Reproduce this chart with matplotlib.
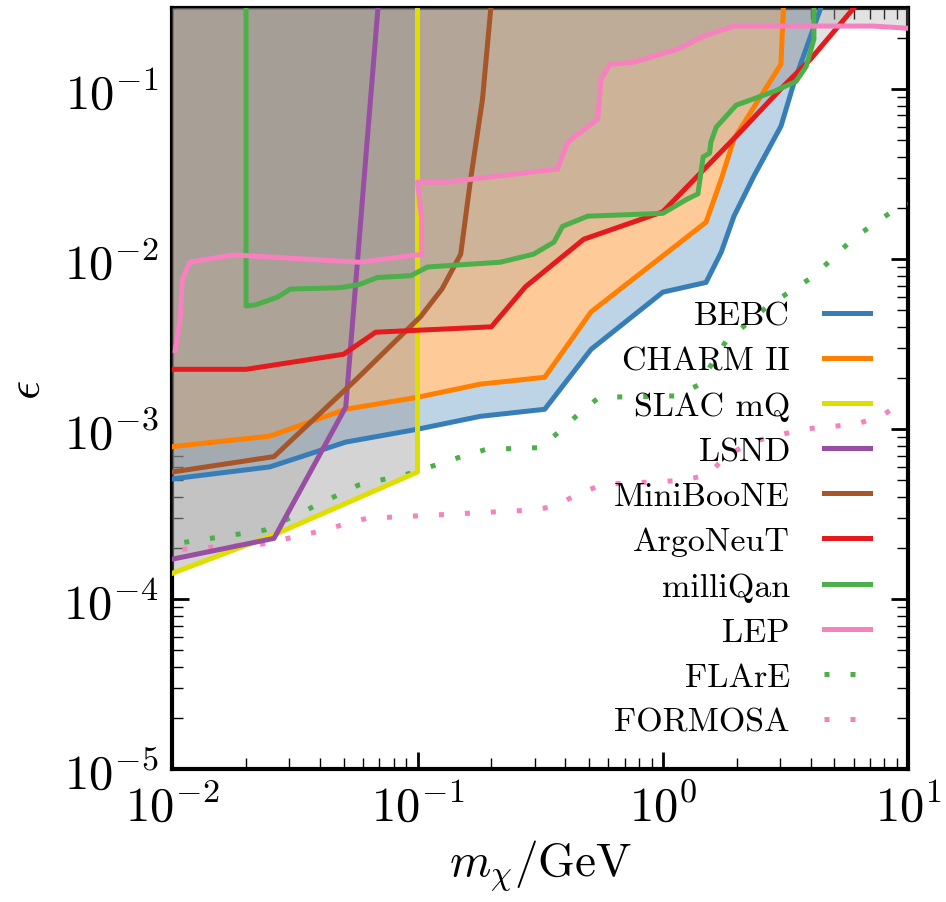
import matplotlib
matplotlib.use('Agg')
import matplotlib.pyplot as plt

plt.rcParams['font.family'] = 'serif'
plt.rcParams['font.serif'] = ['cmr10', 'DejaVu Serif']
plt.rcParams['mathtext.fontset'] = 'cm'
plt.rcParams['axes.formatter.use_mathtext'] = True

# exclusion limits, (m_chi / GeV, epsilon)
bebc_m = [0.01, 0.025, 0.051, 0.1, 0.18, 0.33, 0.51, 1.0, 1.5, 1.73, 1.95, 2.35, 3.03, 3.43, 4.4]
bebc_e = [5.1e-4, 6.0e-4, 8.4e-4, 1.0e-3, 1.19e-3, 1.31e-3, 2.95e-3, 6.4e-3, 7.3e-3, 0.011, 0.0179, 0.0308, 0.0605, 0.11, 0.3]

charm_m = [0.01, 0.025, 0.051, 0.1, 0.18, 0.33, 0.51, 1.5, 1.73, 1.95, 3.03, 3.1]
charm_e = [7.9e-4, 9.1e-4, 1.31e-3, 1.54e-3, 1.84e-3, 2.02e-3, 4.9e-3, 0.0165, 0.0295, 0.051, 0.14, 0.3]

slac_m = [0.01, 0.027, 0.1, 0.1]
slac_e = [1.42e-4, 2.45e-4, 5.6e-4, 0.3]

lsnd_m = [0.01, 0.026, 0.051, 0.0625, 0.069]
lsnd_e = [1.72e-4, 2.28e-4, 1.35e-3, 0.052, 0.3]

mb_m = [0.01, 0.026, 0.056, 0.103, 0.126, 0.15, 0.164, 0.184, 0.199]
mb_e = [5.6e-4, 6.9e-4, 1.95e-3, 4.6e-3, 6.7e-3, 0.0107, 0.0284, 0.087, 0.3]

argo_m = [0.01, 0.02, 0.05, 0.0675, 0.2, 0.276, 0.476, 1.0, 2.02, 3.1, 4.0, 6.0]
argo_e = [2.25e-3, 2.25e-3, 2.76e-3, 3.72e-3, 4.0e-3, 6.9e-3, 0.0131, 0.019, 0.054, 0.104, 0.15, 0.3]

mq_m = [0.02, 0.02, 0.022, 0.0268, 0.0303, 0.0485, 0.058, 0.0686, 0.094, 0.11, 0.218, 0.297,
        0.36, 0.39, 0.494, 1.0, 1.26, 1.39, 1.46, 1.55, 1.57, 1.65, 1.99, 2.84, 3.49, 3.84, 4.13, 4.13]
mq_e = [0.3, 5.3e-3, 5.4e-3, 5.97e-3, 6.67e-3, 6.8e-3, 7.1e-3, 7.8e-3, 8.0e-3, 9.0e-3, 9.6e-3, 0.0107,
        0.0126, 0.0156, 0.0179, 0.0186, 0.0226, 0.0242, 0.040, 0.042, 0.0488, 0.0597, 0.0805, 0.097,
        0.111, 0.136, 0.197, 0.3]

lep_m = [0.0103, 0.0108, 0.011, 0.0118, 0.0177, 0.058, 0.1, 0.104, 0.104, 0.1, 0.132, 0.372, 0.41,
         0.543, 0.56, 0.61, 0.76, 1.15, 1.47, 1.95, 7.2, 10.0]
lep_e = [2.9e-3, 4.6e-3, 7.6e-3, 9.6e-3, 0.0106, 9.6e-3, 0.0106, 0.0106, 0.0172, 0.0284, 0.0284,
         0.0339, 0.0488, 0.0667, 0.115, 0.14, 0.144, 0.172, 0.205, 0.235, 0.235, 0.228]

flare_m = [0.0112, 0.0238, 0.0373, 0.0574, 0.0935, 0.151, 0.19, 0.32, 0.454, 0.55, 1.13, 1.4,
           1.81, 2.68, 4.1, 6.0, 9.1, 10.0]
flare_e = [2.16e-4, 2.55e-4, 3.48e-4, 4.69e-4, 5.5e-4, 6.9e-4, 7.6e-4, 7.8e-4, 1.23e-3, 1.54e-3,
           1.57e-3, 1.82e-3, 3.3e-3, 5.3e-3, 7.9e-3, 0.0133, 0.0202, 0.021]

formosa_m = [0.011, 0.0233, 0.0384, 0.062, 0.103, 0.284, 0.36, 0.45, 0.57, 1.21, 1.53, 1.8, 2.29,
             3.72, 6.1, 7.77, 9.55]
formosa_e = [1.97e-4, 2.11e-4, 2.48e-4, 2.99e-4, 3.1e-4, 3.34e-4, 3.5e-4, 4.15e-4, 4.74e-4, 5.0e-4,
             5.4e-4, 6.9e-4, 8.4e-4, 1.0e-3, 1.07e-3, 1.19e-3, 1.46e-3]

limits = [
    ('BEBC', bebc_m, bebc_e, '#377eb8'),
    ('CHARM II', charm_m, charm_e, '#ff7f00'),
    ('SLAC mQ', slac_m, slac_e, '#dede00'),
    ('LSND', lsnd_m, lsnd_e, '#984ea3'),
    ('MiniBooNE', mb_m, mb_e, '#a65628'),
    ('ArgoNeuT', argo_m, argo_e, '#e41a1c'),
    ('milliQan', mq_m, mq_e, '#4daf4a'),
    ('LEP', lep_m, lep_e, '#f781bf'),
]
projections = [
    ('FLArE', flare_m, flare_e, '#4daf4a'),
    ('FORMOSA', formosa_m, formosa_e, '#f781bf'),
]

ETOP = 0.3

fig, ax = plt.subplots(figsize=(9.46, 9.03), dpi=100)
fig.subplots_adjust(left=0.182, right=0.960, bottom=0.147, top=0.990)

for name, m, e, c in limits:
    if name == 'BEBC':
        ax.fill_between(m, e, ETOP, color=c, alpha=0.33, lw=0, zorder=1)
    elif name == 'CHARM II':
        ax.fill_between(m, e, ETOP, color='#fecb98', lw=0, zorder=2)
    elif name == 'SLAC mQ':
        ax.fill_between(m, e, ETOP, color='#959595', alpha=0.4, lw=0, zorder=3)
    else:
        ax.fill_between(m, e, ETOP, color='#9a9a9a', alpha=0.28, lw=0, zorder=3)

for name, m, e, c in limits:
    ax.plot(m, e, color=c, lw=3.6, label=name, zorder=5)
for name, m, e, c in projections:
    ax.plot(m, e, color=c, lw=3.6, ls=(0, (1, 4.2)), label=name, zorder=4)

ax.set_xscale('log')
ax.set_yscale('log')
ax.set_xlim(0.01, 10)
ax.set_ylim(1e-5, ETOP)
ax.set_xlabel(r'$m_\chi/\mathrm{GeV}$', fontsize=34, labelpad=6)
ax.set_ylabel(r'$\epsilon$', fontsize=34, labelpad=10)

ax.tick_params(which='both', direction='in', top=True, right=True, labelsize=35, pad=10)
ax.tick_params(which='major', length=12, width=2)
ax.tick_params(which='minor', length=8, width=1)
for s in ax.spines.values():
    s.set_linewidth(3)

ax.legend(loc='lower right', frameon=False, markerfirst=False, fontsize=24.5,
          handlelength=1.35, handletextpad=1.0, labelspacing=0.45,
          borderaxespad=0.55, bbox_to_anchor=(0.992, 0.0))

plt.savefig('out.png', dpi=100)
